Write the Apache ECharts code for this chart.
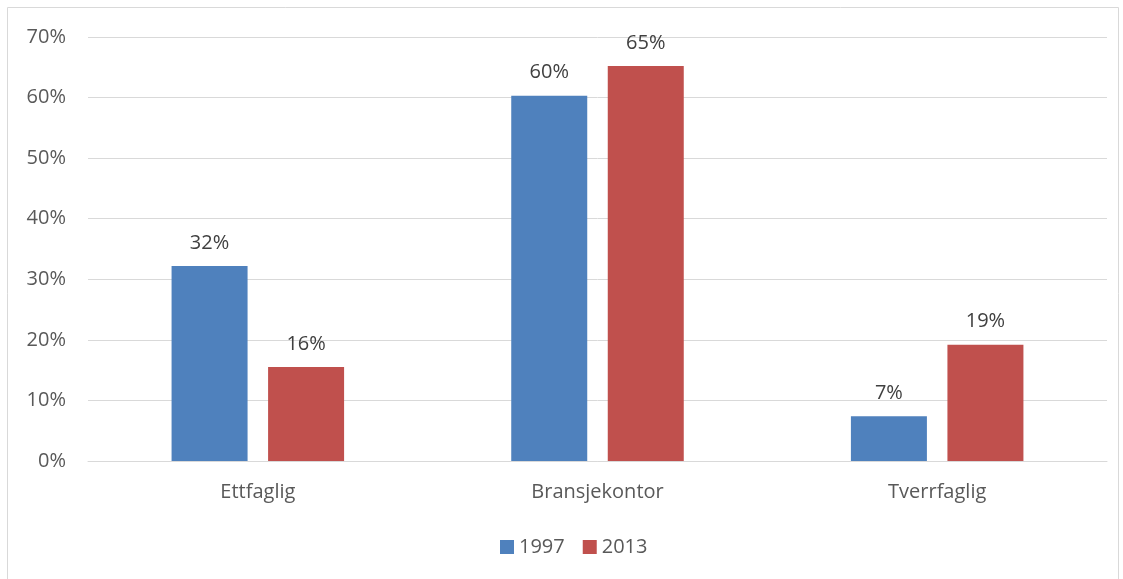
<!DOCTYPE html>
<html>
<head>
<meta charset="utf-8">
<script src="https://cdn.jsdelivr.net/npm/echarts@6/dist/echarts.min.js"></script>
<style>html,body{margin:0;padding:0;background:#fff}#c{width:1123px;height:579px}</style>
</head>
<body>
<div id="c"></div>
<script>
const categories = ['Ettfaglig', 'Bransjekontor', 'Tverrfaglig'];
const series1997 = [32.2, 60.3, 7.4];
const series2013 = [15.5, 65.2, 19.2];
const yTicks = [0, 10, 20, 30, 40, 50, 60, 70];

const chart = echarts.init(document.getElementById('c'));
const font = '"Open Sans", "Noto Sans", sans-serif';
const lbl = {
  show: true, position: 'top', distance: 13,
  fontFamily: font, fontSize: 20, color: '#404040',
  formatter: p => Math.round(p.value) + '%'
};
chart.setOption({
  animation: false,
  graphic: [{
    type: 'rect', shape: {x: 7.5, y: 7.5, width: 1111, height: 600},
    style: {fill: null, stroke: '#d9d9d9', lineWidth: 1}, z: -1
  }],
  grid: {left: 88, right: 16, top: 37, bottom: 118},
  legend: {
    top: 537, left: 500, itemWidth: 14, itemHeight: 14, itemGap: 18,
    icon: 'rect', padding: 0,
    textStyle: {fontFamily: font, fontSize: 20, color: '#595959'},
    data: ['1997', '2013']
  },
  xAxis: {
    type: 'category', data: categories,
    axisLine: {lineStyle: {color: '#d9d9d9', width: 1}},
    axisTick: {show: false},
    axisLabel: {fontFamily: font, fontSize: 20, color: '#595959', margin: 21}
  },
  yAxis: {
    type: 'value', min: yTicks[0], max: yTicks[yTicks.length - 1], interval: 10,
    axisLine: {show: false}, axisTick: {show: false},
    splitLine: {lineStyle: {color: '#d9d9d9', width: 1}},
    axisLabel: {fontFamily: font, fontSize: 20, color: '#595959', margin: 22,
      formatter: v => v + '%'}
  },
  series: [
    {name: '1997', type: 'bar', data: series1997, barWidth: 76, barGap: '27%',
     itemStyle: {color: '#4f81bd'}, label: lbl},
    {name: '2013', type: 'bar', data: series2013, barWidth: 76,
     itemStyle: {color: '#c0504d'}, label: lbl}
  ]
});
</script>
</body>
</html>
